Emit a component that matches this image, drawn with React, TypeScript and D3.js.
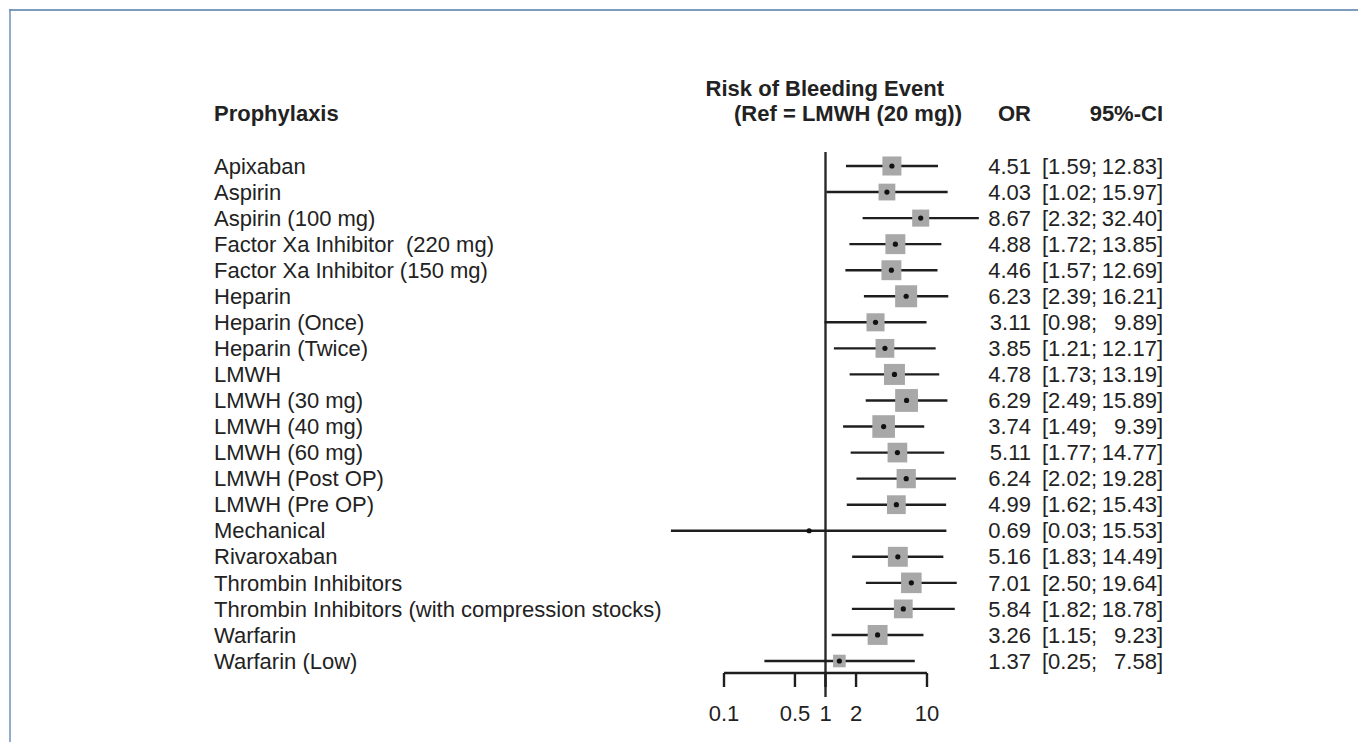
import React from 'react';
import * as d3 from 'd3';

// forest plot data
const labels = [
  'Apixaban', 'Aspirin', 'Aspirin (100 mg)', 'Factor Xa Inhibitor  (220 mg)', 'Factor Xa Inhibitor (150 mg)',
  'Heparin', 'Heparin (Once)', 'Heparin (Twice)', 'LMWH', 'LMWH (30 mg)', 'LMWH (40 mg)', 'LMWH (60 mg)',
  'LMWH (Post OP)', 'LMWH (Pre OP)', 'Mechanical', 'Rivaroxaban', 'Thrombin Inhibitors',
  'Thrombin Inhibitors (with compression stocks)', 'Warfarin', 'Warfarin (Low)',
];
const orValues = [4.51, 4.03, 8.67, 4.88, 4.46, 6.23, 3.11, 3.85, 4.78, 6.29, 3.74, 5.11, 6.24, 4.99, 0.69, 5.16, 7.01, 5.84, 3.26, 1.37];
const ciLower = [1.59, 1.02, 2.32, 1.72, 1.57, 2.39, 0.98, 1.21, 1.73, 2.49, 1.49, 1.77, 2.02, 1.62, 0.03, 1.83, 2.50, 1.82, 1.15, 0.25];
const ciUpper = [12.83, 15.97, 32.40, 13.85, 12.69, 16.21, 9.89, 12.17, 13.19, 15.89, 9.39, 14.77, 19.28, 15.43, 15.53, 14.49, 19.64, 18.78, 9.23, 7.58];
// study weights (relative), drive box size
const weights = [4.1, 3.2, 3.3, 4.5, 4.5, 5.5, 3.7, 4.0, 5.0, 5.9, 5.8, 4.4, 4.2, 4.0, 0.05, 4.5, 4.8, 4.0, 4.5, 1.8];
const xTicks = [0.1, 0.5, 1, 2, 10];

const FONT = "'Liberation Sans', Arial, sans-serif";
const INK = '#222';
const FS = 22;

export default function App() {
  const W = 1358, H = 742;
  const x = d3.scaleLog().domain([0.1, 10]).range([724, 927]);
  const y = d3.scaleLinear().domain([0, labels.length - 1]).range([166, 661]);
  const box = d3.scaleSqrt().domain([0, 6]).range([0, 23]);
  const f2 = d3.format('.2f');
  const axisY = 673;

  return (
    <div style={{ position: 'absolute', left: 0, top: 0 }}>
      <svg width={W} height={H} style={{ display: 'block', background: '#fff' }} fontFamily={FONT}>
        {/* frame */}
        <line x1={9} x2={W} y1={10} y2={10} stroke="#7e9dbb" strokeWidth={2} />
        <line x1={10} x2={10} y1={9} y2={H} stroke="#6f8fc2" strokeWidth={1.5} />

        {/* headers */}
        <g fill={INK} fontWeight={700} fontSize={FS}>
          <text x={214} y={113} dy="0.35em">Prophylaxis</text>
          <text x={944} y={88} dy="0.35em" textAnchor="end">Risk of Bleeding Event</text>
          <text x={962} y={113} dy="0.35em" textAnchor="end">(Ref = LMWH (20 mg))</text>
          <text x={1031} y={113} dy="0.35em" textAnchor="end">OR</text>
          <text x={1163} y={113} dy="0.35em" textAnchor="end">95%-CI</text>
        </g>

        {/* reference line at OR = 1 */}
        <line x1={x(1)} x2={x(1)} y1={152} y2={697} stroke="#2a2a2a" strokeWidth={2.4} />

        {/* rows */}
        {labels.map((lab, i) => {
          const cy = y(i);
          const s = box(weights[i]);
          return (
            <g key={lab}>
              <text x={214} y={cy} dy="0.35em" fontSize={FS} fill={INK} style={{ whiteSpace: 'pre' }}>{lab}</text>
              <line x1={x(ciLower[i])} x2={x(ciUpper[i])} y1={cy} y2={cy} stroke="#1e1e1e" strokeWidth={2.4} />
              <rect x={x(orValues[i]) - s / 2} y={cy - s / 2} width={s} height={s} fill="#a8a8a8" />
              <circle cx={x(orValues[i])} cy={cy} r={2.6} fill="#111" />
              <text x={1031} y={cy} dy="0.35em" fontSize={FS} fill={INK} textAnchor="end">{f2(orValues[i])}</text>
              <text x={1042} y={cy} dy="0.35em" fontSize={FS} fill={INK}>{'[' + f2(ciLower[i]) + ';'}</text>
              <text x={1163} y={cy} dy="0.35em" fontSize={FS} fill={INK} textAnchor="end">{f2(ciUpper[i]) + ']'}</text>
            </g>
          );
        })}

        {/* x axis */}
        <g stroke="#1e1e1e" strokeWidth={2.4} fill="none">
          <line x1={x(0.1)} x2={x(10)} y1={axisY} y2={axisY} />
          {xTicks.map(t => (
            <line key={t} x1={x(t)} x2={x(t)} y1={axisY} y2={axisY + 14} />
          ))}
        </g>
        {xTicks.map(t => (
          <text key={'l' + t} x={x(t)} y={713} dy="0.35em" textAnchor="middle" fontSize={FS} fill={INK}>{String(t)}</text>
        ))}
      </svg>
    </div>
  );
}
